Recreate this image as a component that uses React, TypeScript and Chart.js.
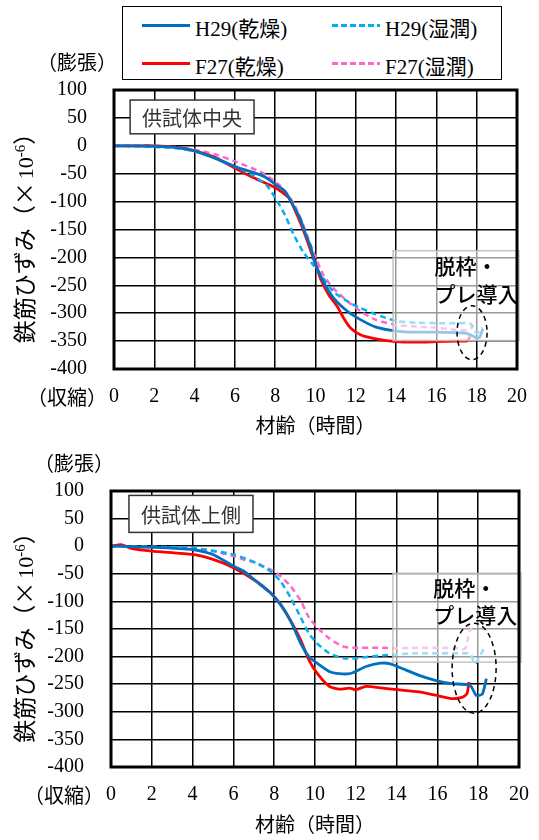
import React, { useEffect, useRef } from "react";
import { Chart, registerables } from "chart.js";
Chart.register(...registerables);

const FONT = '"Liberation Serif", "Noto Sans CJK JP", serif';
const SERIF = '"Liberation Serif", serif';
const JP = '"Noto Sans CJK JP", sans-serif';

// Series names and styles
const seriesNames = ["H29(乾燥)", "H29(湿潤)", "F27(乾燥)", "F27(湿潤)"];
const seriesColors = ["#0070C0", "#00B0F0", "#FF0000", "#FF66CC"];
const seriesDashed = [false, true, false, true];

// Axis settings
const xMin = 0, xMax = 20, xStep = 2;
const yMin = -400, yMax = 100, yStep = 50;
const xTitle = "材齢（時間）";
// y title pieces: main text, base "10", exponent "-6", closing paren
const yTitleMain = "鉄筋ひずみ（×";
const yTitleBase = "10";
const yTitleExp = "-6";
const yTitleClose = "）";
const upperLabel = "（膨張）";
const lowerLabel = "（収縮）";
const noteLines = ["脱枠・", "プレ導入"];

// ---- Top chart: 供試体中央 ----
const topTitle = "供試体中央";
const topTimeH29Dry = [0, 1, 2, 3, 4, 5, 6, 7, 7.5, 8, 8.5, 9, 9.25, 9.5, 9.75, 10, 10.4, 10.9, 11.6, 12.25, 13, 14, 15, 16, 17, 17.5, 18, 18.15, 18.3];
const topStrainH29Dry = [0, 0, -1, -3, -9, -22, -37, -49, -56, -69, -82, -114, -131, -158, -180, -212, -244, -273, -297, -312, -325, -332, -334, -334, -335, -336, -344, -343, -328];
const topTimeH29Wet = [0, 1, 2, 3, 4, 5, 6, 6.8, 7.6, 8.1, 8.5, 8.9, 9.4, 9.9, 10.4, 10.9, 11.6, 12.25, 13, 14, 15, 16, 17, 17.7, 18.0, 18.3];
const topStrainH29Wet = [0, -1, -2, -4, -10, -22, -37, -51, -72, -99, -125, -158, -191, -214, -238, -262, -279, -291, -302, -314, -317, -318, -318, -319, -336, -326];
const topTimeF27Dry = [0, 1, 2, 3, 4, 5, 5.25, 6, 6.9, 8, 8.67, 9.1, 9.5, 9.9, 10.25, 10.67, 11.08, 11.4, 11.75, 12.25, 13, 14, 15, 16, 17, 17.5, 17.6, 17.65];
const topStrainF27Dry = [0, 0, 0, -2, -9, -20, -25, -40, -57, -75, -93, -125, -161, -202, -238, -268, -288, -309, -327, -339, -346, -351, -352, -351, -350, -350, -347, -342];
const topTimeF27Wet = [0, 1, 2, 3, 4, 5, 6, 7.4, 8.25, 8.9, 9.4, 9.9, 10.4, 10.9, 11.6, 12.25, 13, 14, 15, 16, 17, 17.5, 17.8];
const topStrainF27Wet = [0, 0, 0, -2, -7, -15, -28, -49, -72, -102, -143, -191, -232, -256, -279, -297, -312, -321, -324, -326, -330, -330, -325];

// ---- Bottom chart: 供試体上側 ----
const bottomTitle = "供試体上側";
const botTimeH29Dry = [0, 2, 4, 5, 6, 6.5, 7.1, 7.8, 8.3, 8.8, 9.3, 9.7, 10.1, 10.7, 11.2, 11.7, 12.0, 12.5, 13.2, 13.7, 14.3, 15.1, 15.9, 16.7, 17.6, 17.9, 18.2, 18.4];
const botStrainH29Dry = [0, -2, -6, -15, -36, -45, -63, -84, -105, -135, -176, -200, -212, -227, -231, -231, -227, -218, -212, -213, -222, -234, -243, -249, -252, -270, -268, -240];
const botTimeH29Wet = [0, 2, 4, 6, 7.1, 7.8, 8.3, 8.8, 9.3, 9.7, 10.1, 10.7, 11.4, 12, 12.7, 13.3, 14, 15, 16, 17, 17.6, 17.85, 18.33];
const botStrainH29Wet = [0, -1, -3, -15, -30, -45, -63, -93, -129, -158, -176, -194, -203, -203, -200, -198, -196, -194, -194, -194, -195, -213, -182];
const botTimeF27Dry = [0, 0.5, 1, 2, 4, 5, 6, 7.1, 7.8, 8.3, 8.8, 9.3, 9.7, 10.1, 10.7, 11.2, 11.7, 12.0, 12.5, 13.3, 14, 15.1, 15.9, 16.7, 17.2, 17.45, 17.55];
const botStrainF27Dry = [0, 3, -4, -9, -15, -24, -39, -63, -84, -105, -135, -170, -206, -230, -254, -259, -257, -260, -254, -257, -260, -264, -270, -276, -274, -267, -246];
const botTimeF27Wet = [0, 4, 5, 6, 6.5, 7.1, 7.8, 8.3, 8.8, 9.3, 9.7, 10.1, 10.7, 11.4, 12, 13.3, 14, 15, 16, 17, 17.35, 17.6, 17.7];
const botStrainF27Wet = [0, -3, -9, -18, -24, -30, -42, -54, -72, -99, -129, -147, -167, -182, -184, -184, -185, -184, -184, -185, -186, -152, -150];

type Cfg = {
  title: string;
  times: number[][];
  strains: number[][];
  padTop: number;
  padRight: number;
  yWidth: number;
  xHeight: number;
  xTitlePad: number;
  xTickPad: number;
  xTickLH: number;
  height: number;
  titleBox: [number, number, number, number];
  noteBox: [number, number, number, number];
  noteText: [number, number, number];
  ellipse: [number, number, number, number];
};

const topCfg: Cfg = {
  title: topTitle,
  times: [topTimeH29Dry, topTimeH29Wet, topTimeF27Dry, topTimeF27Wet],
  strains: [topStrainH29Dry, topStrainH29Wet, topStrainF27Dry, topStrainF27Wet],
  padTop: 90, padRight: 22, yWidth: 114, xHeight: 71, xTitlePad: 0, xTickPad: 12, xTickLH: 1.6, height: 440,
  titleBox: [0.8, 6.95, 82, 21.5],
  noteBox: [13.85, 20.1, -188, -349],
  noteText: [15.9, -216, -265],
  ellipse: [17.77, -335, 15, 27],
};

const botCfg: Cfg = {
  title: bottomTitle,
  times: [botTimeH29Dry, botTimeH29Wet, botTimeF27Dry, botTimeF27Wet],
  strains: [botStrainH29Dry, botStrainH29Wet, botStrainF27Dry, botStrainF27Wet],
  padTop: 51, padRight: 20, yWidth: 111, xHeight: 73, xTitlePad: 1, xTickPad: 10, xTickLH: 1.8, height: 400,
  titleBox: [0.88, 6.96, 92, 25],
  noteBox: [13.82, 20.1, -49, -210],
  noteText: [15.8, -76, -125],
  ellipse: [17.8, -221, 22, 45],
};

function drawYTitle(ctx: CanvasRenderingContext2D, cx: number, cy: number) {
  const fMain = `23px ${JP}`;
  const fBase = `22px ${SERIF}`;
  const fExp = `15px ${SERIF}`;
  ctx.font = fMain;
  const w1 = ctx.measureText(yTitleMain).width + 3;
  const w4 = ctx.measureText(yTitleClose).width;
  ctx.font = fBase;
  const w2 = ctx.measureText(yTitleBase).width;
  ctx.font = fExp;
  const w3 = ctx.measureText(yTitleExp).width;
  const total = w1 + w2 + w3 + w4;
  ctx.save();
  ctx.translate(cx, cy);
  ctx.rotate(-Math.PI / 2);
  ctx.fillStyle = "#000";
  ctx.textAlign = "left";
  ctx.textBaseline = "alphabetic";
  let px = -total / 2;
  const base = 8;
  ctx.font = fMain; ctx.fillText(yTitleMain, px, base); px += w1;
  ctx.font = fBase; ctx.fillText(yTitleBase, px, base); px += w2;
  ctx.font = fExp; ctx.fillText(yTitleExp, px, base - 8); px += w3;
  ctx.font = fMain; ctx.fillText(yTitleClose, px, base);
  ctx.restore();
}

function decorPlugin(cfg: Cfg) {
  return {
    id: "decor",
    afterDatasetsDraw(chart: any) {
      const { ctx, chartArea: a, scales } = chart;
      const x = scales.x, y = scales.y;
      ctx.save();
      // note box (semi transparent)
      const [nx1, nx2, ny1, ny2] = cfg.noteBox;
      const bx1 = x.getPixelForValue(nx1), bx2 = x.getPixelForValue(nx2);
      const by1 = y.getPixelForValue(ny1), by2 = y.getPixelForValue(ny2);
      ctx.fillStyle = "rgba(255,255,255,0.6)";
      ctx.fillRect(bx1, by1, bx2 - bx1, by2 - by1);
      ctx.strokeStyle = "rgba(190,190,190,0.9)";
      ctx.lineWidth = 1.5;
      ctx.strokeRect(bx1, by1, bx2 - bx1, by2 - by1);
      // note text
      ctx.fillStyle = "#000";
      ctx.font = `500 21px ${JP}`;
      ctx.textAlign = "left";
      ctx.textBaseline = "middle";
      const tx = x.getPixelForValue(cfg.noteText[0]);
      ctx.fillText(noteLines[0], tx, y.getPixelForValue(cfg.noteText[1]));
      ctx.fillText(noteLines[1], tx, y.getPixelForValue(cfg.noteText[2]));
      // dashed ellipse
      const [ecx, ecy, rx, ry] = cfg.ellipse;
      ctx.beginPath();
      ctx.setLineDash([5, 4]);
      ctx.strokeStyle = "#000";
      ctx.lineWidth = 1.5;
      ctx.ellipse(x.getPixelForValue(ecx), y.getPixelForValue(ecy), rx, ry, 0, 0, Math.PI * 2);
      ctx.stroke();
      ctx.setLineDash([]);
      // title box
      const [tx1, tx2, ty1, ty2] = cfg.titleBox;
      const lx1 = x.getPixelForValue(tx1), lx2 = x.getPixelForValue(tx2);
      const ly1 = y.getPixelForValue(ty1), ly2 = y.getPixelForValue(ty2);
      ctx.fillStyle = "#fff";
      ctx.fillRect(lx1, ly1, lx2 - lx1, ly2 - ly1);
      ctx.strokeStyle = "#333";
      ctx.lineWidth = 1.5;
      ctx.strokeRect(lx1, ly1, lx2 - lx1, ly2 - ly1);
      ctx.fillStyle = "#333";
      ctx.font = `20px ${JP}`;
      ctx.textAlign = "center";
      ctx.fillText(cfg.title, (lx1 + lx2) / 2, (ly1 + ly2) / 2 + 1);
      // thick plot border
      ctx.strokeStyle = "#000";
      ctx.lineWidth = 3;
      ctx.strokeRect(a.left, a.top, a.right - a.left, a.bottom - a.top);
      // side labels
      ctx.fillStyle = "#000";
      ctx.font = `20px ${FONT}`;
      ctx.textAlign = "center";
      ctx.fillText(upperLabel, a.left - 37, a.top - 25);
      ctx.fillText(lowerLabel, a.left - 47, a.bottom + 31);
      // y axis title
      drawYTitle(ctx, 25, (a.top + a.bottom) / 2 + 3);
      ctx.restore();
    },
  };
}

function ChartPanel({ cfg }: { cfg: Cfg }) {
  const ref = useRef<HTMLCanvasElement>(null);
  useEffect(() => {
    if (!ref.current) return;
    const datasets = seriesNames.map((name, i) => ({
      label: name,
      data: cfg.times[i].map((t, j) => ({ x: t, y: cfg.strains[i][j] })),
      borderColor: seriesColors[i],
      backgroundColor: seriesColors[i],
      borderWidth: seriesDashed[i] ? 2.5 : 2.8,
      borderDash: seriesDashed[i] ? [6, 4] : [],
      pointRadius: 0,
      tension: 0.2,
      fill: false,
    }));
    const tickFont = { family: FONT, size: 20 };
    const chart = new Chart(ref.current, {
      type: "line",
      data: { datasets },
      options: {
        animation: false,
        responsive: false,
        devicePixelRatio: 1,
        layout: { padding: { top: cfg.padTop, right: cfg.padRight, left: 0, bottom: 0 } },
        plugins: { legend: { display: false }, tooltip: { enabled: false } },
        scales: {
          x: {
            type: "linear",
            min: xMin, max: xMax,
            ticks: { stepSize: xStep, color: "#000", font: { family: FONT, size: 20, lineHeight: cfg.xTickLH }, padding: cfg.xTickPad, maxRotation: 0, autoSkip: false },
            grid: { color: "#000", lineWidth: 1.5, drawTicks: false },
            border: { display: false },
            title: { display: true, text: xTitle, color: "#000", font: tickFont, padding: { top: 0, bottom: cfg.xTitlePad } },
            afterFit: (s: any) => { s.height = cfg.xHeight; },
          },
          y: {
            type: "linear",
            min: yMin, max: yMax,
            ticks: { stepSize: yStep, color: "#000", font: tickFont, padding: 27 },
            grid: { color: "#000", lineWidth: 1.5, drawTicks: false },
            border: { display: false },
            title: { display: false },
            afterFit: (s: any) => { s.width = cfg.yWidth; },
          },
        },
      } as any,
      plugins: [decorPlugin(cfg)],
    });
    return () => chart.destroy();
  }, [cfg]);
  return <canvas ref={ref} width={539} height={cfg.height} style={{ display: "block" }} />;
}

function Legend() {
  const rows = [[0, 1], [2, 3]];
  return (
    <div style={{ position: "absolute", left: 122, top: 6, width: 380, height: 74, border: "1.5px solid #000", boxSizing: "border-box", background: "#fff", zIndex: 2 }}>
      {rows.map((row, ri) =>
        row.map((si, ci) => {
          const cy = ri === 0 ? 18 : 56;
          const lx = ci === 0 ? 19 : 209;
          const color = seriesColors[si];
          return (
            <React.Fragment key={si}>
              <div style={{
                position: "absolute", left: lx, top: cy - 1.5, width: 48, height: 3,
                background: seriesDashed[si]
                  ? `repeating-linear-gradient(90deg, ${color} 0 6px, transparent 6px 9px)`
                  : color,
              }} />
              <div style={{ position: "absolute", left: lx + 53, top: cy - 13, height: 26, lineHeight: "26px", font: `21px ${FONT}`, color: "#000", whiteSpace: "nowrap" }}>
                {seriesNames[si]}
              </div>
            </React.Fragment>
          );
        })
      )}
    </div>
  );
}

export default function App() {
  return (
    <div style={{ position: "absolute", left: 0, top: 0, width: 539, height: 840, background: "#fff", overflow: "hidden" }}>
      <div style={{ position: "absolute", left: 0, top: 0 }}>
        <ChartPanel cfg={topCfg} />
      </div>
      <div style={{ position: "absolute", left: 0, top: 440 }}>
        <ChartPanel cfg={botCfg} />
      </div>
      <Legend />
    </div>
  );
}
